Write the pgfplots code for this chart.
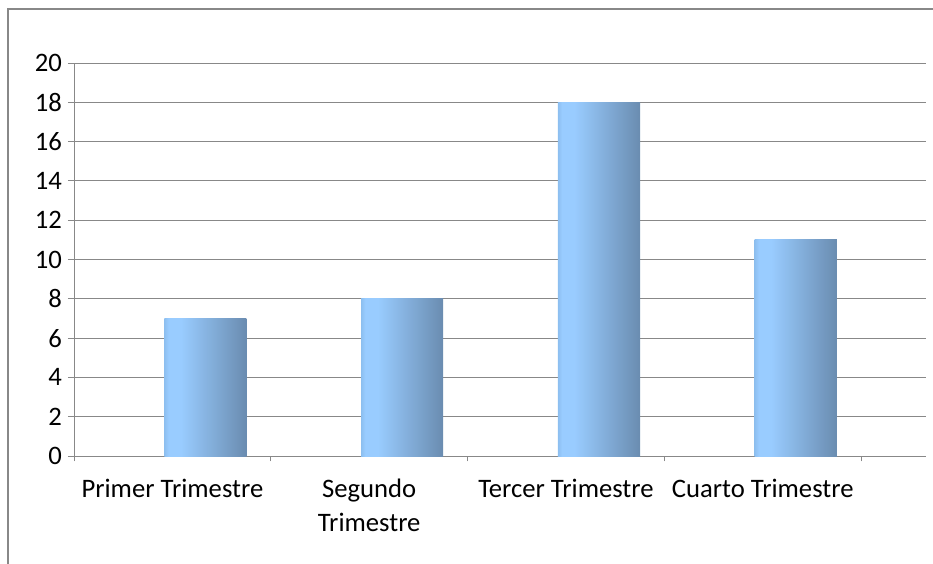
\documentclass[border=0pt]{standalone}
\usepackage{pgfplots}
\pgfplotsset{compat=1.18}
\usepackage{fontspec}
\setmainfont{Carlito}

\definecolor{gridgray}{HTML}{888888}
\definecolor{barlight}{HTML}{99CCFF}
\definecolor{baredge}{HTML}{8DBFF0}
\definecolor{bardark}{HTML}{6A8CB0}

% bars: light band just right of the left edge, darker towards the right
\pgfdeclarehorizontalshading{barshade}{100bp}{%
  color(0bp)=(baredge); color(25bp)=(baredge); color(27.5bp)=(barlight);
  color(35bp)=(barlight); color(75bp)=(bardark); color(100bp)=(bardark)}

\pgfplotsset{qbar/.style={ybar, bar width=0.417, bar shift=0.168, draw=none, shading=barshade}}

\begin{document}
\begin{tikzpicture}[font=\fontsize{20}{25.5}\selectfont]
% page size 933x564 px, 1px = 0.75pt
\path[use as bounding box] (0,0) rectangle (699.75pt,-423pt);
\draw[gridgray, line width=0.9pt] (6pt,-423pt) -- (6pt,-6.75pt) -- (699.75pt,-6.75pt);

\begin{axis}[
    at={(55.5pt,-342pt)}, anchor=south west,
    scale only axis,
    width=639pt, height=294.75pt,
    ymin=0, ymax=20, ytick={0,2,...,20},
    xmin=-0.5, xmax=3.83,
    xtick={0,1,2,3},
    xticklabels={Primer Trimestre, {Segundo\\Trimestre}, Tercer Trimestre, Cuarto Trimestre},
    minor xtick={-0.5,0.5,1.5,2.5,3.5},
    axis x line*=bottom, axis y line*=left,
    axis line style={gridgray, line width=0.75pt, -},
    tick align=outside,
    major tick length=4.5pt, minor tick length=4pt,
    x tick style={draw=none},
    minor x tick style={draw=gridgray, line width=0.75pt},
    y tick style={gridgray, line width=0.75pt},
    ymajorgrids, grid style={gridgray, line width=0.75pt},
    xticklabel style={align=center, anchor=north, yshift=-9pt},
    yticklabel style={anchor=east, xshift=-1pt},
    /pgf/number format/assume math mode=true,
    clip=false,
]
% one plot per quarter so that each bar gets its own shading
\addplot[qbar] coordinates {(0,7)};
\addplot[qbar] coordinates {(1,8)};
\addplot[qbar] coordinates {(2,18)};
\addplot[qbar] coordinates {(3,11)};
\end{axis}
\end{tikzpicture}
\end{document}
